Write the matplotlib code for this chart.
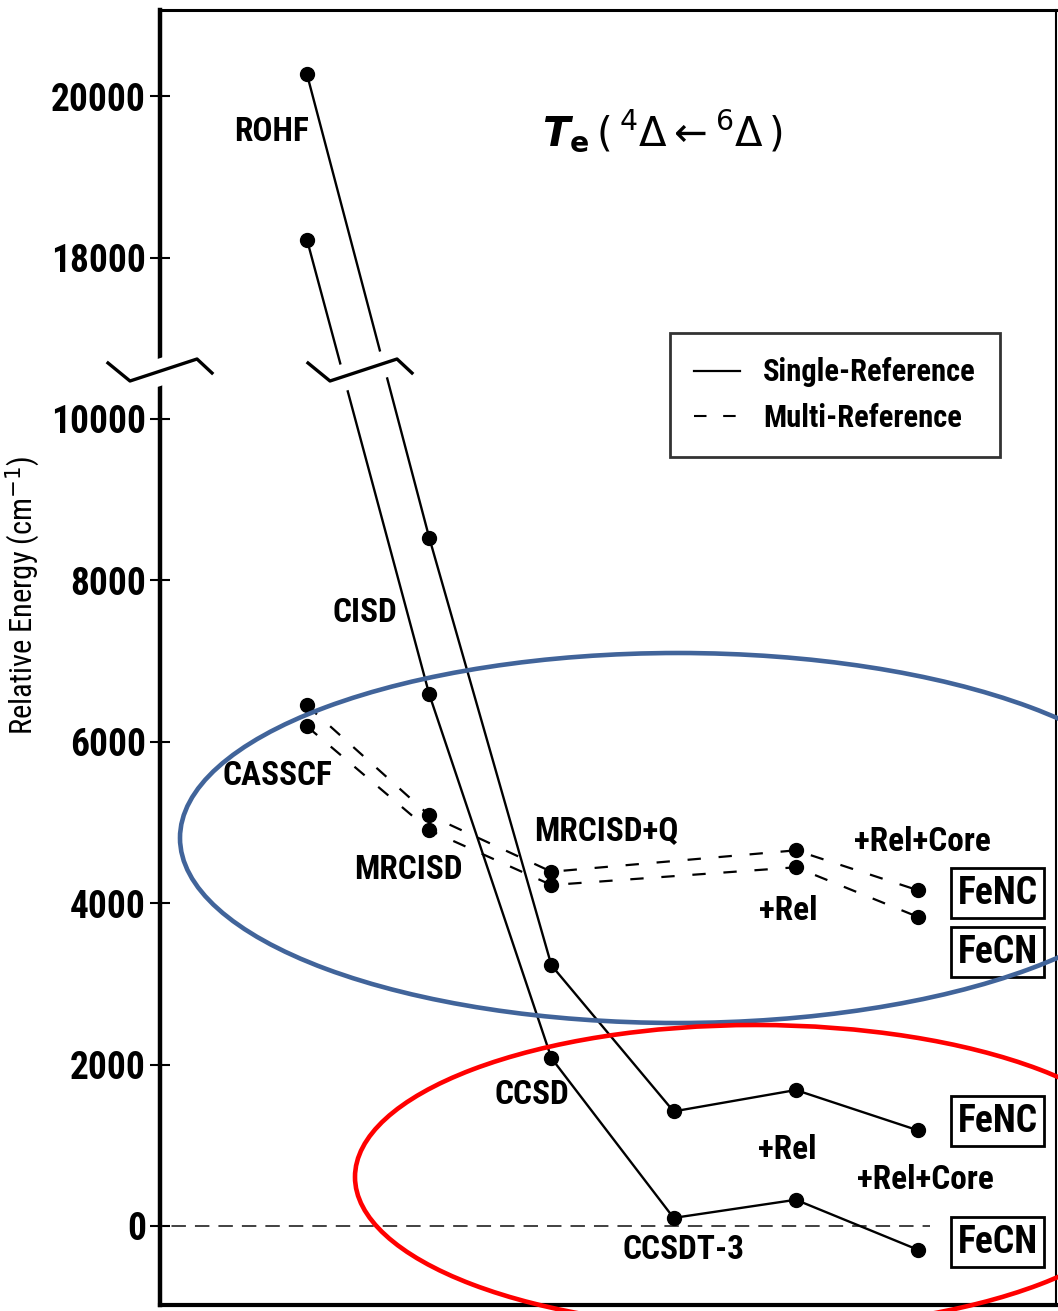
import matplotlib
matplotlib.use("Agg")
import matplotlib.pyplot as plt
import matplotlib.font_manager as fm
import matplotlib.transforms as mtransforms
from matplotlib.patches import Ellipse, Polygon
from matplotlib.lines import Line2D

# pick a narrow sans font if one is installed
names = {f.name: f for f in fm.fontManager.ttflist}
stretch = 'normal'
if 'Liberation Sans Narrow' in names:
    FONT = 'Liberation Sans Narrow'
elif 'Roboto Condensed' in names:
    FONT = 'Roboto Condensed'
elif any(f.name == 'DejaVu Sans' and f.stretch == 'condensed' for f in fm.fontManager.ttflist):
    FONT = 'DejaVu Sans'
    stretch = 'condensed'
else:
    FONT = 'Liberation Sans'
plt.rcParams['font.family'] = [FONT, 'DejaVu Sans']
plt.rcParams['font.stretch'] = stretch

# data (cm^-1)
methods_x = [0, 1, 2, 3, 4, 5]     # ROHF/CASSCF, CISD/MRCISD, CCSD/MRCISD+Q, CCSDT-3, +Rel, +Rel+Core
sr_fenc = [20270, 8530, 3230, 1420, 1685, 1185]
sr_fecn = [18220, 6590, 2080, 100, 325, -295]
mr_x = [0, 1, 2, 4, 5]
mr_fenc = [6450, 5090, 4390, 4655, 4160]
mr_fecn = [6190, 4905, 4225, 4445, 3830]

tick_vals = [0, 2000, 4000, 6000, 8000, 10000, 18000, 20000]
SHIFT = 6000   # values above the break are moved down by this much

def brk(v):
    return [y - SHIFT if y > 11000 else y for y in v]

fig = plt.figure(figsize=(10.58, 13.11), dpi=100)
ax = fig.add_axes([160 / 1058, 6 / 1311, 896 / 1058, 1295 / 1311])

ax.plot(methods_x, brk(sr_fenc), '-', color='black', lw=1.7, marker='o', ms=10, zorder=3)
ax.plot(methods_x, brk(sr_fecn), '-', color='black', lw=1.7, marker='o', ms=10, zorder=3)
ax.plot(mr_x, mr_fenc, color='black', lw=1.6, ls=(0, (6, 8)), marker='o', ms=10, zorder=3)
ax.plot(mr_x, mr_fecn, color='black', lw=1.6, ls=(0, (6, 8)), marker='o', ms=10, zorder=3)

ax.plot([-1.3, 5.1], [0, 0], color='#333333', lw=1.3, ls=(0, (8, 5)), zorder=2)

ax.set_xlim(-1.203, 6.129)
ax.set_ylim(-979, 15068)
ax.set_xticks([])
ax.set_yticks(brk(tick_vals))
ax.set_yticklabels([str(t) for t in tick_vals], fontsize=27, fontweight='bold')
ax.tick_params(axis='y', direction='inout', length=14, width=1.5, pad=3)
ax.set_ylabel('Relative Energy (cm$^{-1}$)', fontsize=22)
ax.yaxis.set_label_coords(-118 / 896, 0.548)
ax.spines['left'].set_linewidth(3.2)
ax.spines['bottom'].set_linewidth(3)
ax.spines['top'].set_linewidth(2.2)
ax.spines['right'].set_linewidth(1.5)

lab = dict(fontsize=24, fontweight='bold', ha='center', va='center', zorder=4)
ax.text(-0.29, 13560, 'ROHF', **lab)
ax.text(0.47, 7590, 'CISD', **lab)
ax.text(-0.24, 5570, 'CASSCF', **lab)
ax.text(0.83, 4410, 'MRCISD', **lab)
ax.text(2.45, 4890, 'MRCISD+Q', **lab)
ax.text(5.04, 4755, '+Rel+Core', **lab)
ax.text(3.94, 3900, '+Rel', **lab)
ax.text(1.84, 1620, 'CCSD', **lab)
ax.text(3.93, 940, '+Rel', **lab)
ax.text(5.06, 570, '+Rel+Core', **lab)
ax.text(3.08, -300, 'CCSDT-3', **lab)

box = dict(boxstyle='square,pad=0.18', fc='white', ec='black', lw=2)
for yy, name in [(4125, 'FeNC'), (3395, 'FeCN'), (1300, 'FeNC'), (-200, 'FeCN')]:
    ax.text(5.65, yy, name, fontsize=27, fontweight='bold', ha='center', va='center',
            bbox=box, zorder=5)

ax.text(2.91, 13570, r'$\mathbfit{T}_{\mathbf{e}}\,(\,^{4}\Delta\leftarrow{}^{6}\Delta\,)$',
        fontsize=29, ha='center', va='center', family='DejaVu Sans')

handles = [Line2D([], [], color='black', lw=1.6),
           Line2D([], [], color='black', lw=1.5, ls=(0, (6, 8)))]
leg = ax.legend(handles, ['Single-Reference', 'Multi-Reference'],
                loc='upper left', bbox_to_anchor=(0.569, 0.7506), borderaxespad=0,
                frameon=True, fancybox=False, edgecolor='black',
                prop=dict(family=FONT, weight='bold', size=22, stretch=stretch),
                handlelength=1.5, handletextpad=0.75, labelspacing=0.5, borderpad=0.8)
leg.get_frame().set_linewidth(2)

# axis break marks (pixel coordinates of the output)
px = mtransforms.IdentityTransform()
H = 1311
for x0 in [108, 308]:
    zx = [x0, x0 + 22, x0 + 89, x0 + 104]
    zy = [363, 381, 359, 373]
    band = [(x0 + 4, H - 352), (x0 + 22, H - 368), (x0 + 89, H - 346), (x0 + 104, H - 360),
            (x0 + 104, H - 388), (x0 + 89, H - 374), (x0 + 22, H - 396), (x0 + 4, H - 378)]
    fig.add_artist(Polygon(band, closed=True, fc='white', ec='none', transform=px, zorder=10))
    fig.add_artist(Line2D(zx, [H - y for y in zy], color='black', lw=2.4, transform=px, zorder=11))

# highlight ellipses
fig.add_artist(Ellipse((678, H - 838), 996, 370, fill=False, ec='#41649A', lw=3.3, transform=px, zorder=12))
fig.add_artist(Ellipse((756, H - 1177), 802, 304, fill=False, ec='#FF0000', lw=3.3, transform=px, zorder=12))

fig.savefig('out.png', dpi=100)
